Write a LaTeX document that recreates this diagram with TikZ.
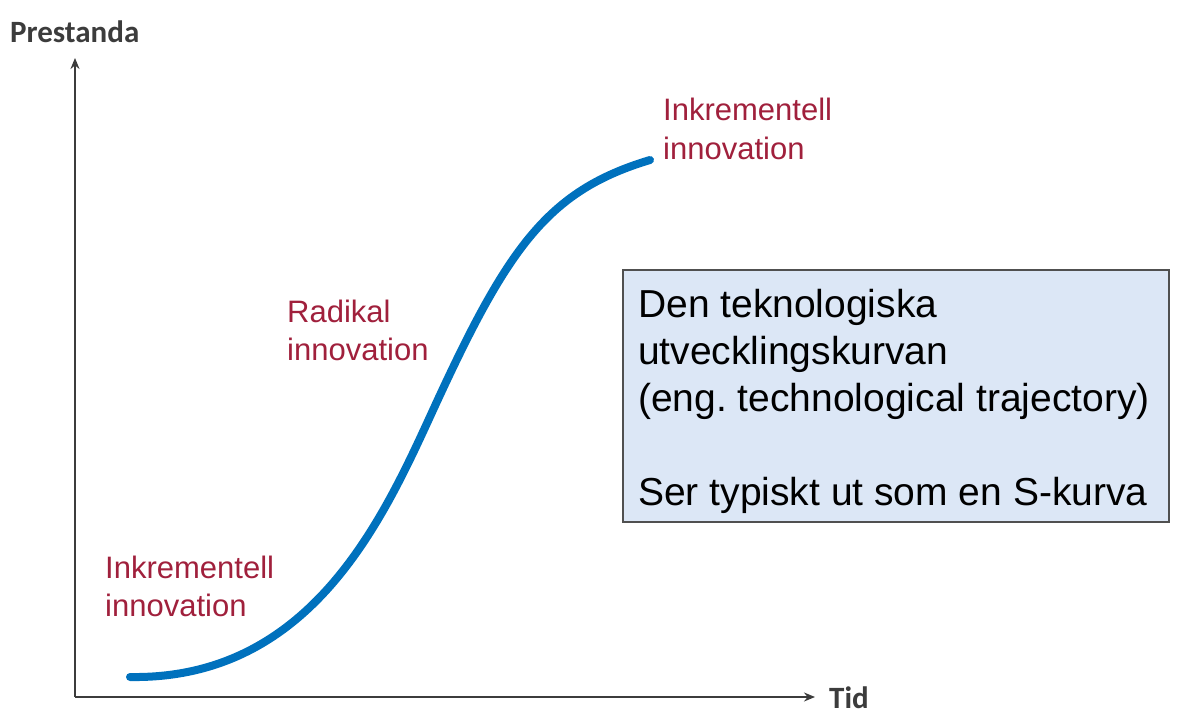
\documentclass[tikz,border=0pt]{standalone}
\usepackage{fontspec}
\setmainfont{Liberation Sans}
\newfontfamily\axisfont{Carlito}
\usetikzlibrary{arrows.meta}
\definecolor{curveblue}{HTML}{0071BD}
\definecolor{labelred}{HTML}{A0203C}
\definecolor{boxfill}{HTML}{DCE7F6}
\definecolor{axisgray}{HTML}{3C3C3C}
\definecolor{boxline}{HTML}{505050}
\frenchspacing
\begin{document}
\begin{tikzpicture}[x=1pt,y=-1pt,
  axis/.style={draw=axisgray, line width=2pt, -{Stealth[length=11pt,width=9pt]}},
  axislabel/.style={anchor=base west, inner sep=0pt, text=axisgray, font=\axisfont\bfseries\fontsize{31}{36}\selectfont},
  curve/.style={draw=curveblue, line width=8pt, line cap=round, line join=round},
  phase/.style={anchor=base west, inner sep=0pt, text=labelred, font=\fontsize{31}{37}\selectfont},
  infobox/.style={draw=boxline, line width=1.5pt, fill=boxfill},
  infotext/.style={anchor=base west, inner sep=0pt, text=black, font=\fontsize{39}{47}\selectfont}]
\useasboundingbox (0,0) rectangle (1202,714);
% axes
\coordinate (O) at (75,697);
\coordinate (ytip) at (75,58);
\coordinate (xtip) at (815,697);
\draw[axis] (O) -- (ytip);
\draw[axis] (O) -- (xtip);
\node[axislabel] (ylab) at (10,43) {Prestanda};
\node[axislabel] (xlab) at (829,708) {Tid};
% S-curve
\coordinate (c0) at (130,677);
\coordinate (c1) at (440,395);
\coordinate (c2) at (650,160);
\draw[curve] (c0) .. controls (320,680) and (390,502.5) .. (c1)
                  .. controls (510,244.5) and (550,190) .. (c2);
% phase labels
\node[phase] (low1) at (105,578) {Inkrementell};
\node[phase] (low2) at (105,616) {innovation};
\node[phase] (mid1) at (287,322) {Radikal};
\node[phase] (mid2) at (287,360) {innovation};
\node[phase] (top1) at (663,121) {Inkrementell};
\node[phase] (top2) at (663,160) {innovation};
% info box
\coordinate (bx1) at (623,270);
\coordinate (bx2) at (1169,522);
\draw[infobox] (bx1) rectangle (bx2);
\node[infotext] (t1) at (638,317) {Den teknologiska};
\node[infotext] (t2) at (638,364) {utvecklingskurvan};
\node[infotext] (t3) at (638,411) {(eng. technological trajectory)};
\node[infotext] (t4) at (638,505) {Ser typiskt ut som en S-kurva};
\end{tikzpicture}
\end{document}
